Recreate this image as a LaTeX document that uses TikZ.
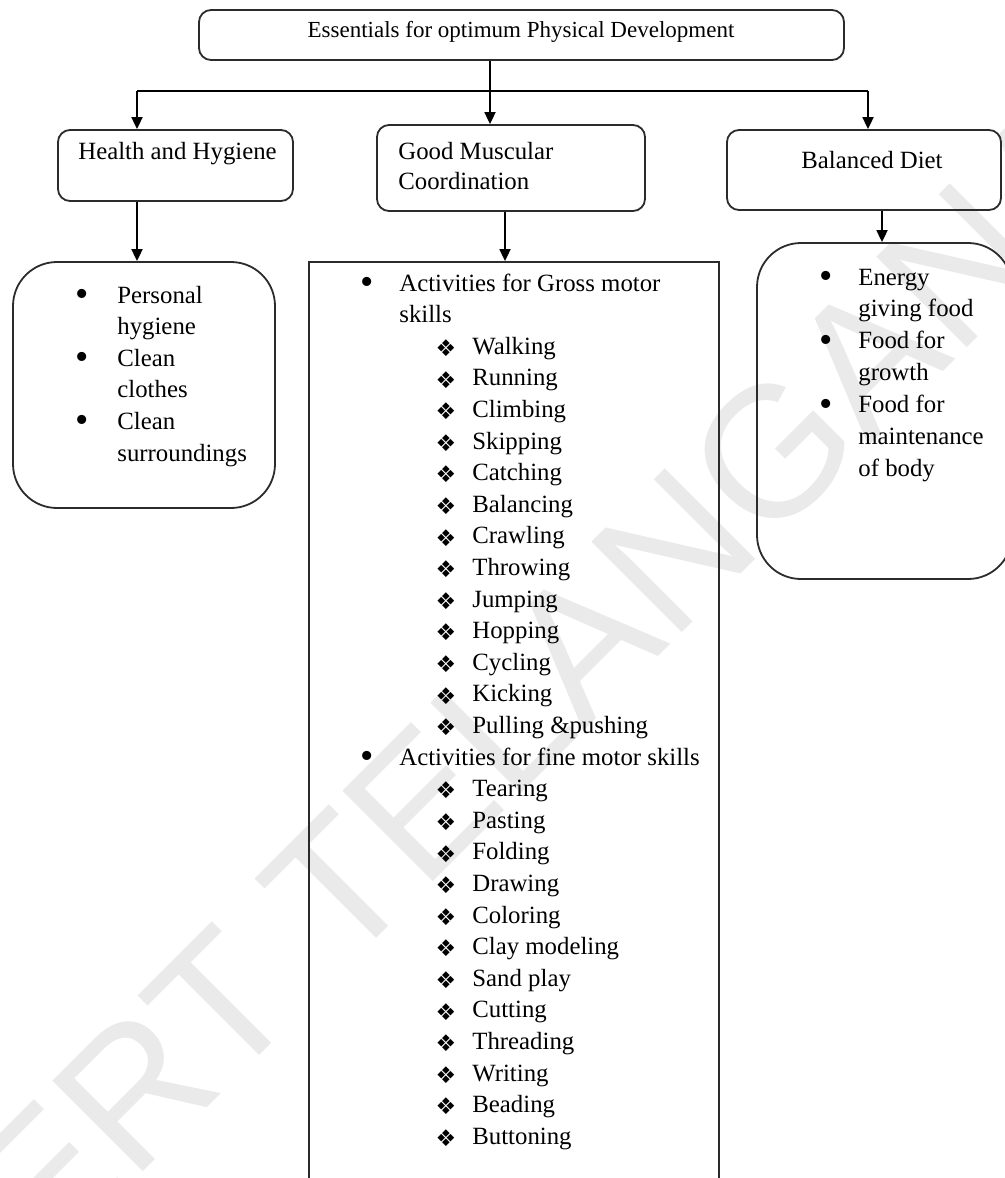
\documentclass[tikz,border=0pt]{standalone}
\usepackage{fontspec}
\setmainfont{Liberation Serif}
\newfontfamily\wmfont{Liberation Sans}
\newfontfamily\dingfont{DejaVu Sans}
\usetikzlibrary{arrows.meta}
\definecolor{edge}{HTML}{2B2B2B}
\definecolor{wmark}{HTML}{EAEAEA}
\newcommand{\dia}{{\dingfont\fontsize{11.5}{11.5}\selectfont ❖}}

\begin{document}
\begin{tikzpicture}[x=0.5pt, y=-0.5pt, >={Triangle[length=6pt,width=5.5pt]},
    font=\fontsize{12.4}{15.8}\selectfont,
    box/.style={draw=edge, line width=0.9pt, rounded corners=6pt, inner sep=0pt},
    bigbox/.style={box, rounded corners=22pt},
    lbl/.style={inner sep=0pt, anchor=base west},
    bul/.style={inner sep=0pt, font=\fontsize{19}{19}\selectfont},
    dmd/.style={inner sep=0pt},
    line/.style={draw=black, line width=0.9pt},
    wm/.style={inner sep=0pt, anchor=base west, rotate=45, text=wmark,
      font=\wmfont\fontsize{93}{93}\selectfont}]
  \useasboundingbox (0,0) rectangle (1005,1178);
  % watermark behind everything
  \node[wm] (wm) at (-50,1365) {CERT TELANGANA};

  % boxes
  \node[box, minimum width=322.5pt, minimum height=25pt] (top) at (521.5,35) {};
  \node[box, minimum width=117.5pt, minimum height=35.5pt] (hh) at (175.5,165.5) {};
  \node[box, minimum width=134pt, minimum height=43pt] (gmc) at (511,168) {};
  \node[box, minimum width=137pt, minimum height=40pt] (bd) at (864,170) {};
  \node[bigbox, minimum width=131pt, minimum height=123pt] (lbox) at (144,385) {};
  \node[box, rounded corners=0pt, minimum width=205pt, minimum height=484pt] (mbox) at (514,746) {};
  \node[bigbox, minimum width=127.5pt, minimum height=168pt] (rbox) at (884.5,411) {};

  % box titles
  \node[inner sep=0pt, font=\fontsize{11.5}{14}\selectfont] (toptxt) at (521,32) {Essentials for optimum Physical Development};
  \node[lbl] (hhtxt) at (78,159) {Health and Hygiene};
  \node[lbl] (gmc1) at (398,159) {Good Muscular};
  \node[lbl] (gmc2) at (398,189) {Coordination};
  \node[inner sep=0pt] (bdtxt) at (872,160) {Balanced Diet};

  % connectors
  \coordinate (bus) at (490,91);
  \coordinate (lx) at (137,91);
  \coordinate (rx) at (868,91);
  \coordinate (mx) at (505,0);
  \coordinate (bx) at (882,0);
  \draw[line] (top.south -| bus) -- (bus);
  \draw[line] (lx) -- (rx);
  \draw[line,->] (lx) -- (lx |- hh.north);
  \draw[line,->] (bus) -- (bus |- gmc.north);
  \draw[line,->] (rx) -- (rx |- bd.north);
  \draw[line,->] (lx |- hh.south) -- (lx |- lbox.north);
  \draw[line,->] (mx |- gmc.south) -- (mx |- mbox.north);
  \draw[line,->] (bx |- bd.south) -- (bx |- rbox.north);

  % left list
  \foreach \t [count=\k from 0] in {Personal,hygiene,Clean,clothes,Clean,surroundings}
    \node[lbl] (l\k) at (117,{303+31.6*\k}) {\t};
  \foreach \k in {0,2,4}
    \node[bul] (lb\k) at (82,{298+31.6*\k}) {•};

  % right list
  \foreach \t [count=\k from 0] in {Energy,giving food,Food for,growth,Food for,maintenance,of body}
    \node[lbl] (r\k) at (858,{285+31.9*\k}) {\t};
  \foreach \k in {0,2,4}
    \node[bul] (rb\k) at (826,{280+31.9*\k}) {•};

  % middle list
  \node[bul] (mb0) at (367,286) {•};
  \node[lbl] (m0) at (399,291) {Activities for Gross motor};
  \node[lbl] (m1) at (399,{291+31.6}) {skills};
  \foreach \t [count=\k from 2] in {Walking,Running,Climbing,Skipping,Catching,Balancing,Crawling,Throwing,Jumping,Hopping,Cycling,Kicking,Pulling \&pushing}{
    \node[dmd] (md\k) at (446,{285+31.6*\k}) {\dia};
    \node[lbl] (m\k) at (472,{291+31.6*\k}) {\t};
  }
  \node[bul] (mb15) at (367,{286+31.6*15}) {•};
  \node[lbl] (m15) at (399,{291+31.6*15}) {Activities for fine motor skills};
  \foreach \t [count=\k from 16] in {Tearing,Pasting,Folding,Drawing,Coloring,Clay modeling,Sand play,Cutting,Threading,Writing,Beading,Buttoning}{
    \node[dmd] (md\k) at (446,{285+31.6*\k}) {\dia};
    \node[lbl] (m\k) at (472,{291+31.6*\k}) {\t};
  }
\end{tikzpicture}
\end{document}
